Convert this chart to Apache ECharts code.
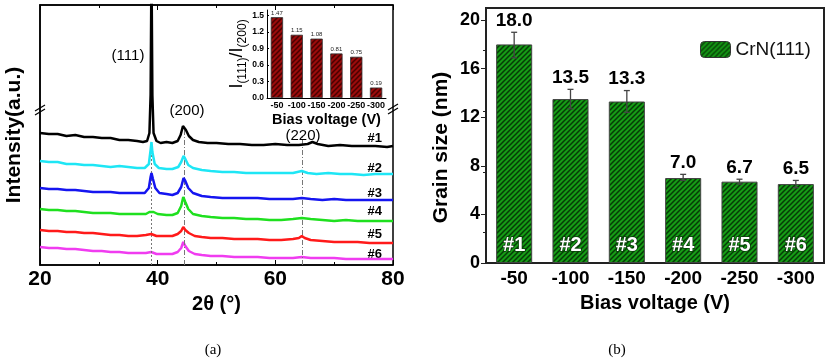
<!DOCTYPE html>
<html lang="en">
<head>
<meta charset="UTF-8">
<title>XRD / grain size</title>
<style>
    * { margin: 0; padding: 0; }
    body { background: #fff; }
</style>
<script src="https://cdn.jsdelivr.net/npm/echarts@6/dist/echarts.min.js"></script>
</head>
<body>
<div id="chart" style="width:826px;height:364px;"></div>
<script>
// (a) XRD patterns [2theta, intensity (a.u., stacked)]
var xrd1 = [[20,132],[21.5,131],[23,131],[24.5,129],[26,130],[27.5,128],[29,128],[30.5,127],[32,127],[33.5,125],[35,125],[36.5,124],[37.5,123],[38.2,124],[38.6,132],[38.8,170],[38.95,300],[39.1,170],[39.3,132],[39.8,124],[40.5,122],[41.5,123],[42.5,122],[43.4,124],[43.9,130],[44.3,139],[44.5,140],[44.8,135],[45.3,129],[46,125],[47,123],[48.5,122],[50,122],[52,121],[54,121],[56,120],[58,120],[60,121],[62,120],[64,120],[65.5,121],[66.3,123],[67.2,121],[69,119],[71,120],[73,119],[75,119],[77,119],[79,118],[80,119]];
var xrd2 = [[20,104],[21.5,103],[23,103],[24.5,101],[26,101],[27.5,100],[29,100],[30.5,99],[32,98],[33.5,99],[35,98],[36.5,97],[37.8,97],[38.5,101],[38.8,115],[38.95,123],[39.1,113],[39.5,101],[40.2,97],[41.5,96],[42.5,96],[43.5,98],[44,103],[44.4,109],[44.7,106],[45.2,100],[46,97],[47.5,95],[49,94],[51,93],[53,93],[55,92],[57,92],[59,92],[61,92],[63,92],[64.5,94],[65.5,92],[67,91],[69,92],[71,91],[73,91],[75,90],[77,91],[79,91],[80,91]];
var xrd3 = [[20,77],[21.5,76],[23,76],[24.5,75],[26,75],[27.5,74],[29,73],[30.5,73],[32,73],[33.5,72],[35,72],[36.5,72],[37.8,72],[38.5,77],[38.8,88],[38.95,92],[39.2,86],[39.6,77],[40.3,72],[41.5,71],[42.5,70],[43.4,72],[44,78],[44.4,87],[44.7,84],[45.2,77],[46,72],[47.5,69],[49,68],[51,67],[53,67],[55,67],[57,67],[59,66],[61,66],[63,66],[64.5,67],[66,66],[68,65],[70,66],[72,65],[74,65],[76,65],[78,65],[80,65]];
var xrd4 = [[20,56],[21.5,55],[23,55],[24.5,54],[26,54],[27.5,53],[29,52],[30.5,52],[32,52],[33.5,51],[35,51],[36.5,51],[38,51],[38.6,53],[38.9,55],[39.3,53],[40,51],[41.5,50],[42.5,50],[43.4,52],[44,59],[44.35,68],[44.7,63],[45.2,56],[46,51],[47.5,49],[49,48],[51,47],[53,47],[55,46],[57,46],[59,45],[61,45],[63,46],[64.5,47],[66,46],[68,45],[70,44],[72,45],[74,44],[76,44],[78,44],[80,44]];
var xrd5 = [[20,35],[21.5,34],[23,34],[24.5,33],[26,33],[27.5,32],[29,32],[30.5,31],[32,30],[33.5,30],[35,29],[36.5,29],[38,30],[38.9,31],[39.8,29],[41,29],[42.5,29],[43.4,31],[44,34],[44.35,38],[44.7,35],[45.3,32],[46.3,29],[47.5,28],[49,27],[51,27],[53,26],[55,26],[57,26],[59,25],[61,25],[63,26],[64,27],[64.5,29],[65,27],[66,25],[68,24],[70,23],[72,23],[74,23],[76,22],[78,22],[80,22]];
var xrd6 = [[20,18],[21.5,17],[23,17],[24.5,16],[26,16],[27.5,15],[29,14],[30.5,14],[32,13],[33.5,13],[35,12],[36.5,12],[38,12],[38.9,13],[39.8,11],[41,11],[42.5,11],[43.4,13],[44,17],[44.35,23],[44.7,19],[45.3,14],[46.3,11],[47.5,10],[49,9],[51,9],[53,8],[55,8],[57,8],[59,7],[61,7],[63,7],[64.5,8],[66,7],[68,7],[70,7],[72,6],[74,6],[76,6],[78,6],[80,6]];
var xrdNames = ['#1', '#2', '#3', '#4', '#5', '#6'];
var xrdColors = ['#000000', '#1ee6f5', '#1515f0', '#1fe01f', '#ff1a1a', '#f03cf0'];
// reference lines for (111), (200), (220): [2theta, top]
var peakLines = [[38.9, 120], [44.5, 137], [64.5, 128]];

// inset: I(111)/I(200) vs bias
var biasLabels = ['-50', '-100', '-150', '-200', '-250', '-300'];
var ratio = [1.47, 1.15, 1.08, 0.81, 0.75, 0.19];
var ratioTicks = [0, 0.3, 0.6, 0.9, 1.2, 1.5];

// (b) grain size
var grainSize = [18.0, 13.5, 13.3, 7.0, 6.7, 6.5];
var grainLow = [16.9, 12.7, 12.4, 6.8, 6.5, 6.2];
var grainHigh = [19.0, 14.3, 14.2, 7.3, 6.9, 6.8];
var sampleNames = ['#1', '#2', '#3', '#4', '#5', '#6'];
var grainTicks = [0, 4, 8, 12, 16, 20];

var FONT = 'Liberation Sans, Arial, sans-serif';

function hatch(base, stripe) {
    var c = document.createElement('canvas');
    c.width = 5; c.height = 5;
    var g = c.getContext('2d');
    g.fillStyle = base; g.fillRect(0, 0, 5, 5);
    g.strokeStyle = stripe; g.lineWidth = 1.5;
    g.beginPath();
    g.moveTo(-1, 6); g.lineTo(6, -1);
    g.moveTo(-1, 1); g.lineTo(1, -1);
    g.moveTo(4, 6); g.lineTo(6, 4);
    g.stroke();
    return { image: c, repeat: 'repeat' };
}

var xrdSeries = [xrd1, xrd2, xrd3, xrd4, xrd5, xrd6].map(function (d, i) {
    return {
        name: xrdNames[i], type: 'line', xAxisIndex: 0, yAxisIndex: 0,
        data: d, showSymbol: false, clip: true,
        lineStyle: { color: xrdColors[i], width: 2.5 },
        z: 3 + (6 - i)
    };
});
xrdSeries[5].markLine = {
    symbol: 'none', silent: true, label: { show: false },
    data: peakLines.map(function (p, i) {
        return [{ coord: [p[0], 0], lineStyle: { color: '#777', width: 1, type: i === 0 ? [2, 2] : [5, 2, 1, 2] } },
                { coord: [p[0], p[1]] }];
    })
};

var chart = echarts.init(document.getElementById('chart'));
chart.setOption({
    animation: false,
    backgroundColor: '#fff',
    textStyle: { fontFamily: FONT },
    grid: [
        { left: 40, top: 5, width: 353, height: 260, show: true, borderColor: '#000', borderWidth: 1.5 },
        { left: 267, top: 10, width: 119, height: 88 },
        { left: 486, top: 8, right: 2, height: 255, show: true, borderColor: '#222', borderWidth: 2 }
    ],
    legend: {
        data: ['CrN(111)'], left: 695, top: 35, itemWidth: 30, itemHeight: 16, itemGap: 6,
        textStyle: { fontSize: 19, fontFamily: FONT, color: '#111' },
        itemStyle: { borderColor: '#333', borderWidth: 1 }
    },
    xAxis: [
        {
            gridIndex: 0, type: 'value', min: 20, max: 80, interval: 20,
            name: '2θ (°)', nameLocation: 'middle', nameGap: 25,
            nameTextStyle: { fontSize: 20, fontWeight: 'bold', color: '#000' },
            axisLine: { lineStyle: { color: '#000', width: 1.5 } },
            axisTick: { inside: true, length: 5, lineStyle: { color: '#000' } },
            minorTick: { show: true, splitNumber: 2, length: 3, lineStyle: { color: '#000' } },
            axisLabel: { fontSize: 21, fontWeight: 'bold', color: '#000', margin: 4 },
            splitLine: { show: false }
        },
        {
            gridIndex: 0, type: 'value', position: 'top', min: 20, max: 80, interval: 20,
            axisLine: { lineStyle: { color: '#000', width: 1.5 } },
            axisTick: { inside: true, length: 5, lineStyle: { color: '#000' } },
            minorTick: { show: true, splitNumber: 2, length: 3, lineStyle: { color: '#000' } },
            axisLabel: { show: false }, splitLine: { show: false }
        },
        {
            gridIndex: 1, type: 'category', data: biasLabels,
            name: 'Bias voltage (V)', nameLocation: 'middle', nameGap: 14,
            nameTextStyle: { fontSize: 14.5, fontWeight: 'bold', color: '#000' },
            axisLine: { lineStyle: { color: '#000', width: 1 } },
            axisTick: { inside: true, length: 2, lineStyle: { color: '#000' } },
            axisLabel: { fontSize: 9, fontWeight: 'bold', color: '#000', margin: 3, interval: 0 }
        },
        {
            gridIndex: 2, type: 'category', data: biasLabels,
            name: 'Bias voltage (V)', nameLocation: 'middle', nameGap: 30,
            nameTextStyle: { fontSize: 20, fontWeight: 'bold', color: '#000' },
            axisLine: { lineStyle: { color: '#222', width: 2 } },
            axisTick: { inside: true, length: 4, lineStyle: { color: '#222' } },
            axisLabel: { fontSize: 19, fontWeight: 'bold', color: '#000', margin: 6, interval: 0 }
        }
    ],
    yAxis: [
        {
            gridIndex: 0, type: 'value', min: 0, max: 260,
            name: 'Intensity(a.u.)', nameLocation: 'middle', nameGap: 15,
            nameTextStyle: { fontSize: 21, fontWeight: 'bold', color: '#000' },
            axisLine: { show: true, lineStyle: { color: '#000', width: 1.5 } },
            axisTick: { show: false }, axisLabel: { show: false }, splitLine: { show: false }
        },
        {
            gridIndex: 1, type: 'value', min: 0, max: 1.6, interval: 0.3,
            name: '{b|I}{s|(111)}{b|/I}{s|(200)}', nameLocation: 'middle', nameGap: 17,
            nameTextStyle: {
                color: '#000',
                rich: {
                    b: { fontSize: 18, color: '#000', verticalAlign: 'top', lineHeight: 20 },
                    s: { fontSize: 12, color: '#000', verticalAlign: 'bottom', lineHeight: 20 }
                }
            },
            axisLine: { show: true, lineStyle: { color: '#000', width: 1 } },
            axisTick: { show: true, inside: true, length: 2, customValues: ratioTicks },
            axisLabel: { fontSize: 8.5, fontWeight: 'bold', color: '#000', margin: 3, customValues: ratioTicks,
                formatter: function (v) { return v.toFixed(1); } },
            splitLine: { show: false }
        },
        {
            gridIndex: 2, type: 'value', min: 0, max: 21,
            name: 'Grain size (nm)', nameLocation: 'middle', nameGap: 34,
            nameTextStyle: { fontSize: 21, fontWeight: 'bold', color: '#000', padding: [0, 24, 0, 0] },
            axisLine: { show: true, lineStyle: { color: '#222', width: 2 } },
            axisTick: { show: true, length: 5, customValues: grainTicks, lineStyle: { color: '#222' } },
            minorTick: { show: true, splitNumber: 2, length: 3, lineStyle: { color: '#222' } },
            axisLabel: { fontSize: 18, fontWeight: 'bold', color: '#000', margin: 6, customValues: grainTicks },
            splitLine: { show: false }
        }
    ],
    series: xrdSeries.concat([
        {
            name: 'ratio', type: 'bar', xAxisIndex: 2, yAxisIndex: 1, data: ratio,
            barCategoryGap: '38%',
            itemStyle: { color: hatch('#9a0b0b', '#4a0000'), borderColor: '#333', borderWidth: 0.8 },
            label: { show: true, position: 'top', distance: 1, fontSize: 6, color: '#222',
                formatter: function (p) { return p.value.toFixed(2); } }
        },
        {
            name: 'CrN(111)', type: 'bar', xAxisIndex: 3, yAxisIndex: 2, data: grainSize,
            barCategoryGap: '36%',
            itemStyle: { color: hatch('#169c16', '#063c06'), borderColor: '#444', borderWidth: 1 },
            label: {
                show: true, position: 'insideBottom', distance: 8,
                fontSize: 20, fontWeight: 'bold', color: '#fff',
                textBorderColor: '#0a3a0a', textBorderWidth: 1.5,
                formatter: function (p) { return sampleNames[p.dataIndex]; }
            }
        },
        {
            name: 'err', type: 'custom', xAxisIndex: 3, yAxisIndex: 2, z: 5,
            data: grainSize.map(function (v, i) { return [i, grainLow[i], grainHigh[i], v]; }),
            renderItem: function (params, api) {
                var i = api.value(0);
                var lo = api.coord([i, api.value(1)]);
                var hi = api.coord([i, api.value(2)]);
                var w = 3;
                var st = { stroke: '#444', lineWidth: 1.3 };
                return {
                    type: 'group', children: [
                        { type: 'line', shape: { x1: hi[0], y1: hi[1], x2: lo[0], y2: lo[1] }, style: st },
                        { type: 'line', shape: { x1: hi[0] - w, y1: hi[1], x2: hi[0] + w, y2: hi[1] }, style: st },
                        { type: 'line', shape: { x1: lo[0] - w, y1: lo[1], x2: lo[0] + w, y2: lo[1] }, style: st },
                        { type: 'text', x: hi[0], y: hi[1] - 2, style: {
                            text: api.value(3).toFixed(1), align: 'center', verticalAlign: 'bottom',
                            font: 'bold 19px ' + FONT, fill: '#000' } }
                    ]
                };
            }
        }
    ]),
    graphic: [
        { type: 'text', x: 128, y: 56, style: { text: '(111)', font: '15px ' + FONT, fill: '#000', align: 'center', verticalAlign: 'middle' } },
        { type: 'text', x: 187, y: 111, style: { text: '(200)', font: '15px ' + FONT, fill: '#000', align: 'center', verticalAlign: 'middle' } },
        { type: 'text', x: 303, y: 136, style: { text: '(220)', font: '15px ' + FONT, fill: '#000', align: 'center', verticalAlign: 'middle' } },
        { type: 'text', x: 382, y: 138, style: { text: '#1', font: 'bold 13px ' + FONT, fill: '#000', align: 'right', verticalAlign: 'middle' } },
        { type: 'text', x: 382, y: 168, style: { text: '#2', font: 'bold 13px ' + FONT, fill: '#000', align: 'right', verticalAlign: 'middle' } },
        { type: 'text', x: 382, y: 193, style: { text: '#3', font: 'bold 13px ' + FONT, fill: '#000', align: 'right', verticalAlign: 'middle' } },
        { type: 'text', x: 382, y: 211, style: { text: '#4', font: 'bold 13px ' + FONT, fill: '#000', align: 'right', verticalAlign: 'middle' } },
        { type: 'text', x: 382, y: 234, style: { text: '#5', font: 'bold 13px ' + FONT, fill: '#000', align: 'right', verticalAlign: 'middle' } },
        { type: 'text', x: 382, y: 254, style: { text: '#6', font: 'bold 13px ' + FONT, fill: '#000', align: 'right', verticalAlign: 'middle' } },
        // axis break marks
        { type: 'line', shape: { x1: 35, y1: 111, x2: 45, y2: 105 }, style: { stroke: '#000', lineWidth: 1.2 } },
        { type: 'line', shape: { x1: 35, y1: 115, x2: 45, y2: 109 }, style: { stroke: '#000', lineWidth: 1.2 } },
        { type: 'line', shape: { x1: 388, y1: 110, x2: 398, y2: 104 }, style: { stroke: '#000', lineWidth: 1.2 } },
        { type: 'line', shape: { x1: 388, y1: 114, x2: 398, y2: 108 }, style: { stroke: '#000', lineWidth: 1.2 } },
        // captions
        { type: 'text', x: 213, y: 350, style: { text: '(a)', font: '15px Liberation Serif, serif', fill: '#000', align: 'center', verticalAlign: 'middle' } },
        { type: 'text', x: 617, y: 350, style: { text: '(b)', font: '15px Liberation Serif, serif', fill: '#000', align: 'center', verticalAlign: 'middle' } }
    ]
});
</script>
</body>
</html>
